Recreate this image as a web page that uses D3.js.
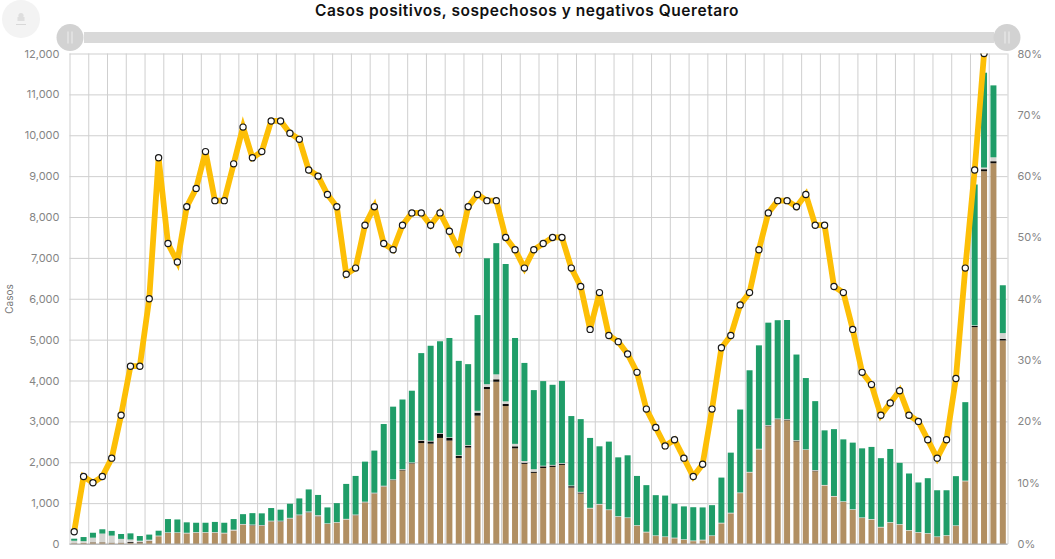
<!DOCTYPE html>
<html lang="es">
<head>
<meta charset="utf-8">
<script src="https://cdn.jsdelivr.net/npm/d3@7"></script>
<style>
html,body{margin:0;padding:0;background:#fff;}
svg{display:block;font-family:Inter,"Open Sans",sans-serif;}
svg text{font-family:Inter,"Open Sans",sans-serif;}
.tick text{fill:#858585;font-size:11px;}
</style>
</head>
<body>
<svg id="chart" width="1055" height="559"></svg>
<script>
const chartTitle = "Casos positivos, sospechosos y negativos Queretaro";
const yAxisLabel = "Casos";
const periods = d3.range(1, 101);
const positivos = [20,30,40,40,30,30,30,40,70,190,270,270,260,275,275,275,260,330,470,450,440,550,545,620,700,765,675,490,520,600,700,1015,1235,1405,1560,1800,1970,2470,2455,2595,2530,2105,2360,3140,3790,3970,3375,2340,1960,1740,1860,1885,1935,1380,1235,870,965,830,665,635,445,285,195,170,140,100,70,90,195,505,750,1245,1750,2315,2880,3050,3025,2510,2300,1780,1430,1160,1030,835,635,595,405,520,470,325,275,250,170,200,440,1535,5305,9120,9315,4980];
const otros = [0,0,5,5,5,5,20,10,5,0,0,0,0,0,0,0,0,0,5,10,10,5,10,5,5,10,5,0,0,0,5,5,5,5,5,15,10,60,55,105,65,50,45,70,55,60,55,50,30,30,40,35,30,35,25,0,0,0,0,0,0,0,0,0,0,0,0,0,0,0,0,0,0,0,15,5,15,15,0,15,0,0,0,0,0,0,0,0,0,0,0,0,0,0,0,0,30,50,50,40];
const sospechosos = [60,40,110,210,170,90,60,30,30,15,15,15,15,15,15,15,15,20,15,15,15,15,15,15,15,20,25,15,15,15,15,15,15,15,15,15,15,15,15,15,15,15,15,50,65,120,60,60,40,60,15,15,15,15,15,15,15,15,15,15,15,15,15,15,15,15,15,15,15,15,15,15,15,15,15,15,15,15,15,15,15,15,15,15,15,15,15,15,15,15,15,15,15,15,15,15,15,40,95,140];
const negativos = [50,100,120,105,115,120,150,115,125,120,325,315,255,230,230,250,245,260,240,280,285,310,270,345,395,540,495,390,465,855,945,980,1030,1510,1780,1705,1755,2125,2325,2245,2430,2310,1980,2340,3080,3210,3360,2590,2400,1935,2070,1960,2010,1700,1780,1710,1410,1660,1440,1520,1205,1140,985,1000,830,805,815,790,740,1105,1470,2030,2485,2530,2505,2405,2425,2095,1745,1685,1335,1635,1515,1630,1690,1765,1680,1790,1500,1385,1215,1345,1130,1100,1205,1920,3445,2320,1760,1170];
const tasa = [2,11,10,11,14,21,29,29,40,63,49,46,55,58,64,56,56,62,68,63,64,69,69,67,66,61,60,57,55,44,45,52,55,49,48,52,54,54,52,54,51,48,55,57,56,56,50,48,45,48,49,50,50,45,42,35,41,34,33,31,28,22,19,16,17,14,11,13,22,32,34,39,41,48,54,56,56,55,57,52,52,42,41,35,28,26,21,23,25,21,20,17,14,17,27,45,61,80,null,null];
const countTicks = d3.range(0, 12001, 1000);
const rateTicks = d3.range(0, 81, 10);
const seriesKeys = ["positivos","otros","sospechosos","negativos"];
const seriesColors = ["#b18f62","#0c0a08","#d4d4d0","#1f9d68"];

const rows = periods.map((p,i)=>({period:p,positivos:positivos[i],otros:otros[i],sospechosos:sospechosos[i],negativos:negativos[i],tasa:tasa[i]}));
const margin = {left:69.5,right:47.5,top:53.5,bottom:15};
const W = 1055, H = 559;
const svg = d3.select("#chart");

const x = d3.scaleBand().domain(periods).range([margin.left,W-margin.right]).paddingInner(0.36).paddingOuter(0.18);
const edge = d3.scaleLinear().domain([0,periods.length]).range([margin.left,W-margin.right]);
const y = d3.scaleLinear().domain([0,12000]).range([H-margin.bottom,margin.top]);
const yR = d3.scaleLinear().domain([0,80]).range([H-margin.bottom,margin.top]);

// grid
const yGrid = svg.append("g").attr("transform",`translate(${margin.left},0)`)
  .call(d3.axisLeft(y).tickValues(countTicks).tickSize(-(W-margin.left-margin.right)).tickFormat(d3.format(",")).tickPadding(10));
yGrid.select(".domain").remove();
yGrid.selectAll(".tick line").attr("stroke","#cfcfcf").attr("stroke-width",1);

const xGrid = svg.append("g").attr("transform",`translate(0,${H-margin.bottom})`)
  .call(d3.axisBottom(edge).tickValues(d3.range(0,periods.length+1,2)).tickSize(-(H-margin.bottom-margin.top)).tickFormat(""));
xGrid.select(".domain").remove();
xGrid.selectAll(".tick line").attr("stroke","#cfcfcf").attr("stroke-width",1);

const yRight = svg.append("g").attr("transform",`translate(${W-margin.right},0)`)
  .call(d3.axisRight(yR).tickValues(rateTicks).tickSize(0).tickFormat(d=>d+"%").tickPadding(10));
yRight.select(".domain").remove();

svg.append("text").attr("transform",`translate(13,299) rotate(-90)`).attr("text-anchor","middle")
  .attr("fill","#777").attr("font-size",10).text(yAxisLabel);

// bars
const stack = d3.stack().keys(seriesKeys)(rows);
svg.append("g").selectAll("g").data(stack).join("g")
  .attr("fill",(d,i)=>seriesColors[i])
  .selectAll("rect").data(d=>d).join("rect")
  .attr("x",d=>x(d.data.period))
  .attr("width",x.bandwidth())
  .attr("y",d=>y(d[1]))
  .attr("height",d=>Math.max(0,y(d[0])-y(d[1])));

svg.append("line").attr("x1",margin.left).attr("x2",W-margin.right)
  .attr("y1",y(0)).attr("y2",y(0)).attr("stroke","#aaa");

// rate line, clipped to plot
svg.append("clipPath").attr("id","plot").append("rect")
  .attr("x",margin.left-6).attr("y",margin.top).attr("width",W-margin.left-margin.right+12).attr("height",H-margin.top-margin.bottom+6);
const center = d=>x(d.period)+x.bandwidth()/2;
const lineGen = d3.line().defined(d=>d.tasa!=null).x(center).y(d=>yR(d.tasa));
const lineG = svg.append("g").attr("clip-path","url(#plot)");
lineG.append("path").datum(rows).attr("fill","none").attr("stroke","#fdbf06")
  .attr("stroke-width",5.8).attr("stroke-linejoin","miter").attr("d",lineGen);
lineG.selectAll("circle").data(rows.filter(d=>d.tasa!=null)).join("circle")
  .attr("cx",center).attr("cy",d=>yR(d.tasa)).attr("r",3.1)
  .attr("fill","#fff").attr("stroke","#1a1a1a").attr("stroke-width",1.2);

// title
svg.append("text").attr("x",527).attr("y",16).attr("text-anchor","middle")
  .attr("font-size",15.5).attr("font-weight",600).attr("letter-spacing",0.55).attr("fill","#111").text(chartTitle);

// range slider
const sliderY = 37.5;
svg.append("rect").attr("x",84).attr("y",32).attr("width",910).attr("height",11).attr("fill","#d9d9d9");
[70,1007].forEach(cx=>{
  const h = svg.append("g").attr("transform",`translate(${cx},${sliderY})`);
  h.append("circle").attr("r",13.5).attr("fill","#d2d2d2");
  [-2,2].forEach(dx=>h.append("line").attr("x1",dx).attr("x2",dx).attr("y1",-6).attr("y2",6).attr("stroke","#eee").attr("stroke-width",1));
});

// corner button
const btn = svg.append("g").attr("transform","translate(21,19)");
btn.append("circle").attr("r",19).attr("fill","#f3f3f3");
btn.append("circle").attr("cy",-3.5).attr("r",2.6).attr("fill","#dedede");
btn.append("rect").attr("x",-3.5).attr("y",-2).attr("width",7).attr("height",4).attr("fill","#dedede");
btn.append("rect").attr("x",-5).attr("y",5).attr("width",10).attr("height",1).attr("fill","#d8d8d8");
</script>
</body>
</html>
